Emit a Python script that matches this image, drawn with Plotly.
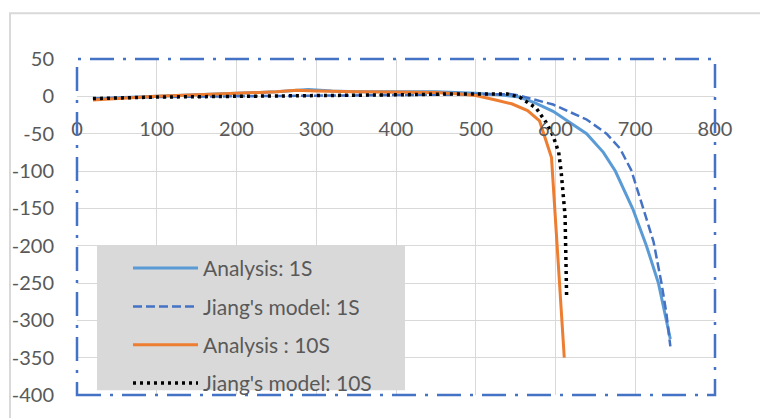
import plotly.graph_objects as go

# Temperature-dependent curves: analysis vs. Jiang's model, 1S and 10S
analysis_1s_x = [20, 50, 100, 150, 200, 250, 290, 320, 350, 400, 450, 500, 530, 555, 575, 597, 622, 639, 660, 675, 697, 714, 729, 739, 744]
analysis_1s_y = [-4, -2, 0, 2, 4, 6, 9, 7, 6, 6, 6, 4, 2, -1, -9, -20, -38, -50, -75, -100, -151, -200, -250, -300, -325]

jiang_1s_x = [20, 100, 200, 300, 400, 500, 543, 555, 597, 639, 664, 681, 695, 710, 723, 733, 739, 744]
jiang_1s_y = [-3, -1, 0, 1, 2, 3, 3, 1, -11, -31, -50, -70, -99, -150, -195, -251, -290, -335]

analysis_10s_x = [20, 50, 100, 150, 200, 250, 275, 300, 350, 400, 450, 480, 500, 525, 545, 565, 580, 595, 611]
analysis_10s_y = [-5, -3, 0, 2, 4, 6, 8, 7, 6, 6, 5, 3, 1, -5, -10, -19, -33, -82, -350]

jiang_10s_x = [20, 100, 200, 250, 300, 400, 460, 540, 555, 576, 589, 597, 604, 607, 612, 614]
jiang_10s_y = [-3, -1, 0, 0, 1, 2, 3, 3, -1, -16, -36, -53, -75, -100, -160, -271]

x_ticks = [0, 100, 200, 300, 400, 500, 600, 700, 800]
y_ticks = [50, 0, -50, -100, -150, -200, -250, -300, -350, -400]

FONT = "Lato"
TICK_COLOR = "#595959"
GRID = "#D9D9D9"

fig = go.Figure()
fig.add_trace(go.Scatter(x=analysis_1s_x, y=analysis_1s_y, mode="lines",
                         name="Analysis: 1S", legendgroup="a",
                         line=dict(color="#5B9BD5", width=3)))
fig.add_trace(go.Scatter(x=jiang_1s_x, y=jiang_1s_y, mode="lines",
                         name="Jiang's model: 1S", legendgroup="b",
                         line=dict(color="#4472C4", width=2.5, dash="9px,4px")))
fig.add_trace(go.Scatter(x=analysis_10s_x, y=analysis_10s_y, mode="lines",
                         name="Analysis : 10S", legendgroup="c",
                         line=dict(color="#ED7D31", width=3)))
fig.add_trace(go.Scatter(x=jiang_10s_x, y=jiang_10s_y, mode="lines",
                         name="Jiang's model: 10S", legendgroup="d",
                         line=dict(color="#000000", width=3.5, dash="3px,4px")))

W, H = 760, 418
L, R, T, B = 77, 715, 59, 404


def px_x(p):
    return (p - L) / (R - L)


def px_y(p):
    return (B - p) / (B - T)


y_min, y_max = -400, 50

fig.update_layout(
    width=W, height=H,
    margin=dict(l=L, r=W - R, t=T, b=H - B),
    paper_bgcolor="white", plot_bgcolor="white",
    font=dict(family=FONT, size=20, color=TICK_COLOR),
    xaxis=dict(range=[0, 800], tickvals=x_ticks, ticktext=[str(v) for v in x_ticks],
               showgrid=True, gridcolor=GRID, gridwidth=1, zeroline=False,
               showline=False, ticks="", anchor="free",
               position=(0 - y_min) / (y_max - y_min),
               ticklabelstandoff=19,
               tickfont=dict(family=FONT, size=20, color=TICK_COLOR)),
    yaxis=dict(range=[y_min, y_max], tickvals=y_ticks, ticktext=[str(v) for v in y_ticks],
               showgrid=True, gridcolor=GRID, gridwidth=1, zeroline=False,
               showline=False, ticks="", ticklabelstandoff=22,
               tickfont=dict(family=FONT, size=20, color=TICK_COLOR)),
    legend=dict(x=px_x(128), y=px_y(253), xanchor="left", yanchor="top",
                bgcolor="rgba(0,0,0,0)", borderwidth=0,
                font=dict(family=FONT, size=21, color=TICK_COLOR),
                itemwidth=65, tracegroupgap=8),
    shapes=[
        # outer chart frame
        dict(type="rect", xref="paper", yref="paper",
             x0=px_x(10), x1=px_x(775), y0=px_y(12), y1=px_y(430),
             line=dict(color="#D9D9D9", width=2), layer="below"),
        # legend panel
        dict(type="rect", xref="paper", yref="paper",
             x0=px_x(97), x1=px_x(405), y0=px_y(251), y1=px_y(399),
             fillcolor="#D9D9D9", line=dict(width=0), layer="between"),
        # plot-area border
        dict(type="rect", xref="paper", yref="paper",
             x0=0, x1=1, y0=0, y1=1,
             line=dict(color="#4472C4", width=2.5, dash="24px,9px,3px,9px"),
             layer="above"),
    ],
)

fig.write_html("out.html")
